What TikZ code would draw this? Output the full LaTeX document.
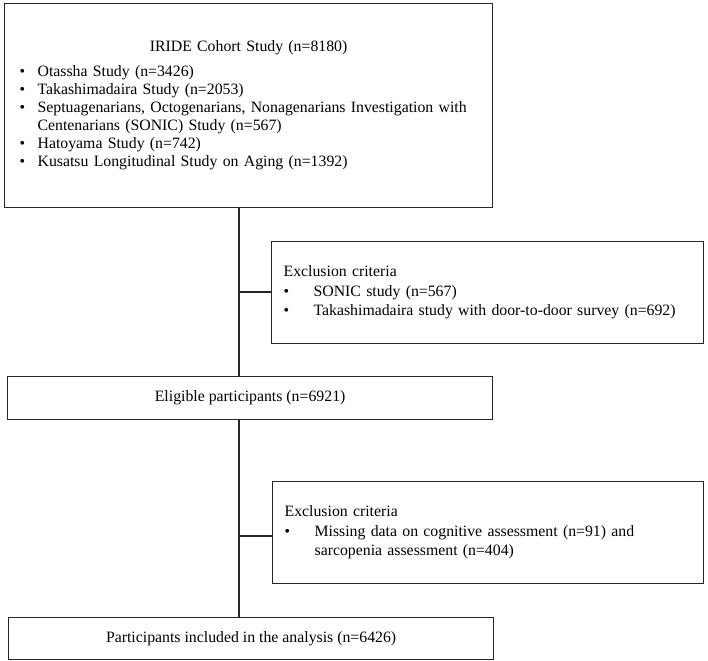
\documentclass[tikz,border=0pt]{standalone}
\usepackage{fontspec}
\setmainfont{Liberation Serif}
\newcommand{\blt}[1][18bp]{\makebox[#1][l]{\textbullet}}

\begin{document}
\begin{tikzpicture}[x=1bp,y=-1bp,line width=1.2bp,
  box/.style={draw=black!85,anchor=north west,inner ysep=0pt,align=left,font=\fontsize{15.8bp}{18bp}\selectfont},
  ctr/.style={box,align=center,inner xsep=4bp},
  excl/.style={box,inner xsep=12bp,minimum height=102bp,font=\fontsize{15.8bp}{19.5bp}\selectfont},
  conn/.style={draw=black!85}]
  \useasboundingbox (0,0) rectangle (708,661);
  % cajas del flujo principal
  \node[box,inner xsep=15bp,text width=458bp,minimum width=488bp,minimum height=204bp] (cohort) at (4,3)
    {\vspace*{7bp}\makebox[\hsize]{IRIDE Cohort Study (n=8180)}\\
     \blt Otassha Study (n=3426)\\
     \blt Takashimadaira Study (n=2053)\\
     \blt Septuagenarians, Octogenarians, Nonagenarians Investigation with\\
     \hspace*{18bp}Centenarians (SONIC) Study (n=567)\\
     \blt Hatoyama Study (n=742)\\
     \blt Kusatsu Longitudinal Study on Aging (n=1392)};
  \node[ctr,minimum width=485bp,minimum height=43bp] (elig) at (7,376) {Eligible participants (n=6921)};
  \node[ctr,minimum width=485bp,minimum height=42bp] (final) at (8,617) {Participants included in the analysis (n=6426)};
  % cajas de exclusion
  \node[excl,text width=408bp,minimum width=432bp] (excl1) at (271,241)
    {Exclusion criteria\\
     \blt[30bp]SONIC study (n=567)\\
     \blt[30bp]Takashimadaira study with door-to-door survey (n=692)};
  \node[excl,text width=407bp,minimum width=431bp] (excl2) at (272,481)
    {Exclusion criteria\\
     \blt[30bp]Missing data on cognitive assessment (n=91) and\\
     \hspace*{30bp}sarcopenia assessment (n=404)};
  % conectores
  \coordinate (j1) at (239,292);
  \coordinate (j2) at (239,536);
  \draw[conn] (cohort.south -| j1) -- (elig.north -| j1);
  \draw[conn] (j1) -- (j1 -| excl1.west);
  \draw[conn] (elig.south -| j2) -- (final.north -| j2);
  \draw[conn] (j2) -- (j2 -| excl2.west);
\end{tikzpicture}
\end{document}
